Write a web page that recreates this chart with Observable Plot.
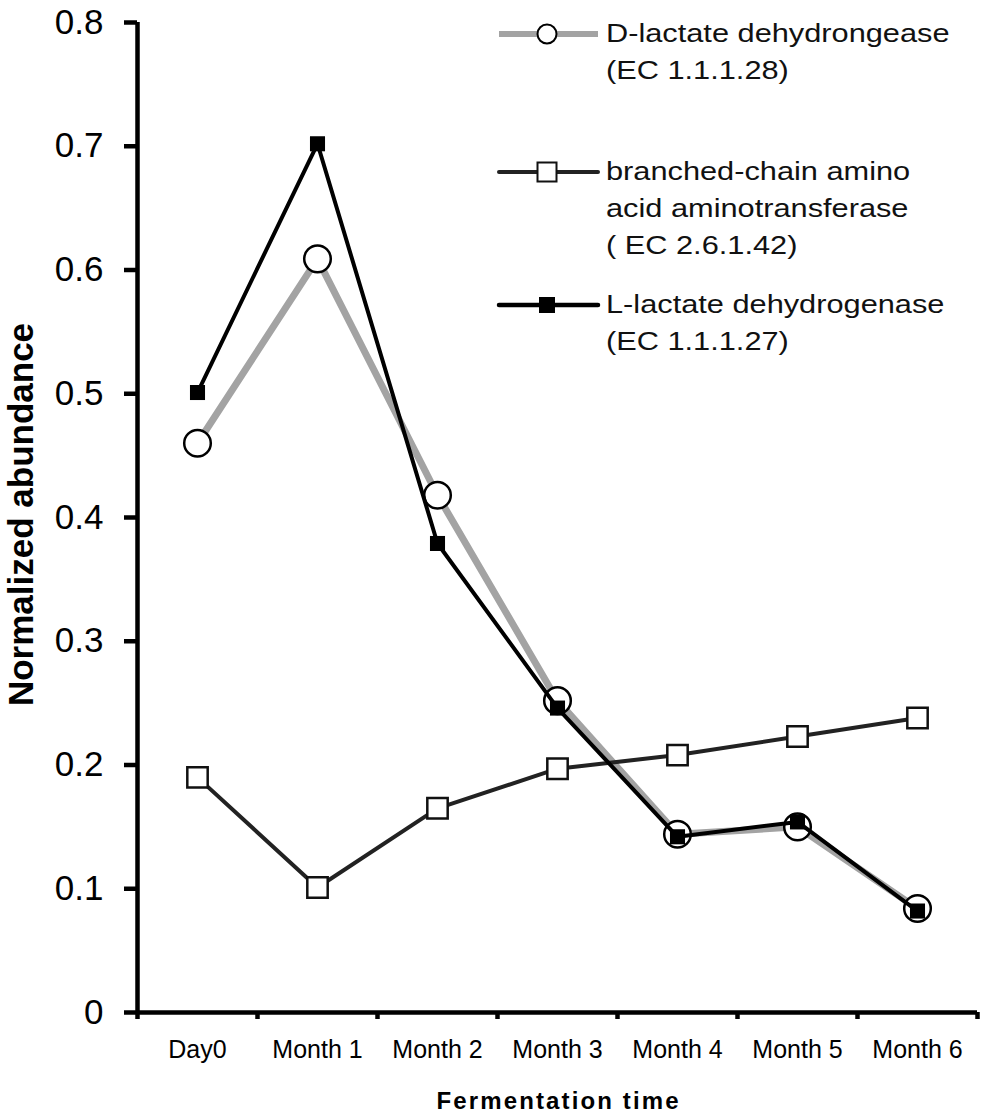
<!DOCTYPE html>
<html>
<head>
<meta charset="utf-8">
<script src="https://cdn.jsdelivr.net/npm/d3@7"></script>
<script src="https://cdn.jsdelivr.net/npm/@observablehq/plot@0.6"></script>
<style>
  html, body { margin: 0; padding: 0; background: white; }
  #wrap { position: relative; width: 985px; height: 1114px; }
  #legend { position: absolute; left: 0; top: 0; pointer-events: none; }
</style>
</head>
<body>
<div id="wrap"></div>
<script>
// ---- data ----
const categories = ["Day0", "Month 1", "Month 2", "Month 3", "Month 4", "Month 5", "Month 6"];
const dLactate = [0.460, 0.609, 0.418, 0.252, 0.144, 0.150, 0.084];
const bcat     = [0.190, 0.101, 0.165, 0.197, 0.208, 0.223, 0.238];
const lLactate = [0.501, 0.702, 0.379, 0.246, 0.142, 0.154, 0.082];
const yTicks = [0, 0.1, 0.2, 0.3, 0.4, 0.5, 0.6, 0.7, 0.8];
const yTickLabels = ["0", "0.1", "0.2", "0.3", "0.4", "0.5", "0.6", "0.7", "0.8"];
const yTitle = "Normalized abundance";
const xTitle = "Fermentation time";
const legendEntries = [
  {lines: ["D-lactate dehydrongease", "(EC 1.1.1.28)"], key: "d"},
  {lines: ["branched-chain amino", "acid aminotransferase", "( EC 2.6.1.42)"], key: "b"},
  {lines: ["L-lactate dehydrogenase", "(EC 1.1.1.27)"], key: "l"}
];

const idx = categories.map((c, i) => i);
const boundaries = [...idx.map(i => i - 0.5), idx.length - 0.5];
const X = (d, i) => i;
const Y = d => d;

const font = "'Liberation Sans', Arial, Helvetica, sans-serif";

const chart = Plot.plot({
  width: 985,
  height: 1114,
  marginTop: 22,
  marginRight: 8,
  marginBottom: 102,
  marginLeft: 137,
  style: {fontFamily: font, background: "white", color: "black", overflow: "visible"},
  x: {domain: [-0.5, idx.length - 0.5], axis: null},
  y: {domain: [0, 0.8], axis: null},
  marks: [
    Plot.axisY({ticks: yTicks, tickFormat: d => yTickLabels[yTicks.indexOf(d)], tickSize: 13, tickPadding: 21, fontSize: 35, strokeWidth: 4.5, label: null}),
    Plot.axisX({ticks: boundaries, tickFormat: () => "", tickSize: 7, strokeWidth: 4.5, label: null}),
    Plot.axisX({ticks: idx, tickFormat: i => categories[i], tickSize: 0, tickPadding: 28, fontSize: 25, label: null}),
    Plot.ruleY([0], {strokeWidth: 4.5}),
    Plot.ruleX([-0.5], {strokeWidth: 4.5}),
    Plot.text([yTitle], {frameAnchor: "left", dx: -105, dy: -3, rotate: -90, fontSize: 35, fontWeight: "bold", lineAnchor: "bottom", textAnchor: "middle"}),
    Plot.text([xTitle], {frameAnchor: "bottom", dy: 96, fontSize: 24, fontWeight: "bold", lineAnchor: "bottom", textAnchor: "middle"}),
    // D-lactate (gray, open circles)
    Plot.lineY(dLactate, {x: X, y: Y, stroke: "#a3a3a3", strokeWidth: 7}),
    Plot.dot(dLactate, {x: X, y: Y, r: 13.3, fill: "white", stroke: "black", strokeWidth: 2.5}),
    // branched-chain (dark, open squares)
    Plot.lineY(bcat, {x: X, y: Y, stroke: "#222", strokeWidth: 4}),
    Plot.dot(bcat, {x: X, y: Y, symbol: "square", r: 11.5, fill: "white", stroke: "#111", strokeWidth: 2.5}),
    // L-lactate (black, filled squares)
    Plot.lineY(lLactate, {x: X, y: Y, stroke: "black", strokeWidth: 4}),
    Plot.dot(lLactate, {x: X, y: Y, symbol: "square", r: 8.5, fill: "black", stroke: "none"})
  ]
});

document.getElementById("wrap").appendChild(chart);

// stretch the x title to match the letter-spaced original
d3.select(chart).selectAll("text").each(function() {
  if (this.textContent === xTitle) {
    d3.select(this).attr("textLength", 242).attr("lengthAdjust", "spacing");
  }
});

// ---- legend ----
const lg = d3.select("#wrap").append("svg")
  .attr("id", "legend")
  .attr("width", 985).attr("height", 1114)
  .style("font-family", font);

const rowY = [34, 172, 305];
const styles = {
  d: {stroke: "#a3a3a3", width: 6, cap: "butt"},
  b: {stroke: "#222", width: 4, cap: "round"},
  l: {stroke: "black", width: 4.5, cap: "round"}
};
legendEntries.forEach((e, k) => {
  const y = rowY[k];
  const s = styles[e.key];
  lg.append("line").attr("x1", 499).attr("x2", 598).attr("y1", y).attr("y2", y)
    .attr("stroke", s.stroke).attr("stroke-width", s.width).attr("stroke-linecap", s.cap);
  if (e.key === "d") {
    lg.append("circle").attr("cx", 547).attr("cy", y).attr("r", 9.5)
      .attr("fill", "white").attr("stroke", "black").attr("stroke-width", 2);
  } else if (e.key === "b") {
    lg.append("rect").attr("x", 547 - 9.5).attr("y", y - 9.5).attr("width", 19).attr("height", 19)
      .attr("fill", "white").attr("stroke", "#111").attr("stroke-width", 2);
  } else {
    lg.append("rect").attr("x", 547 - 8).attr("y", y - 8).attr("width", 16).attr("height", 16)
      .attr("fill", "black");
  }
  const g = lg.append("g").attr("transform", `translate(606,${y + 8}) scale(1.23,1)`);
  e.lines.forEach((t, j) => {
    g.append("text").attr("x", 0).attr("y", j * 37)
      .attr("font-size", 25).attr("fill", "#111").text(t);
  });
});
</script>
</body>
</html>
